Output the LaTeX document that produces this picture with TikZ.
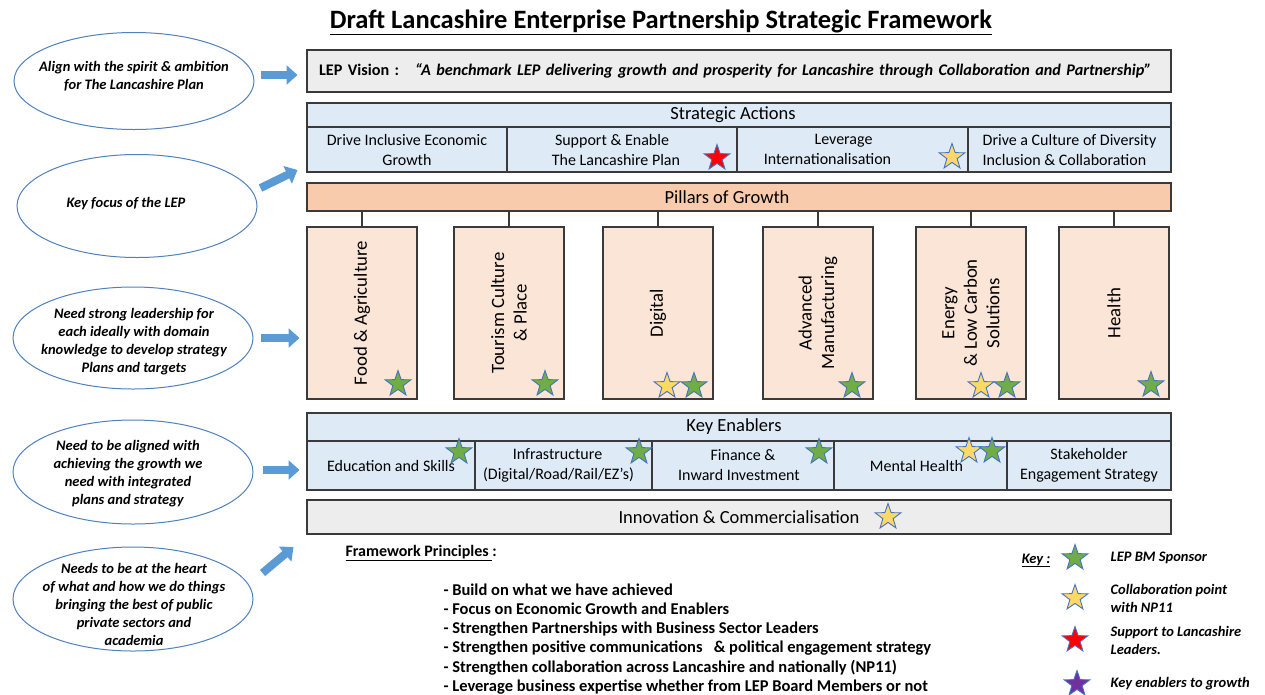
\documentclass[tikz,border=0pt]{standalone}
\usepackage{fontspec}
\setmainfont{Carlito}
\usetikzlibrary{shapes.geometric, arrows.meta, positioning}

\definecolor{visiongray}{HTML}{EDEDED}
\definecolor{actblue}{HTML}{DEEBF7}
\definecolor{pillarbar}{HTML}{F8CBAD}
\definecolor{pillarfill}{HTML}{FBE5D6}
\definecolor{edgegray}{HTML}{3A3A3A}
\definecolor{ellblue}{HTML}{4F81BD}
\definecolor{arrowblue}{HTML}{5B9BD5}
\definecolor{stargreen}{HTML}{70AD47}
\definecolor{staryellow}{HTML}{FFD966}
\definecolor{starred}{HTML}{FF0000}
\definecolor{starpurple}{HTML}{7030A0}
\definecolor{staredge}{HTML}{4472C4}

\tikzset{
  frame/.style={draw=edgegray, line width=1.3, inner sep=0, outer sep=0, anchor=north west},
  headbox/.style={frame, minimum width=864, font=\fontsize{18.5}{22}\selectfont},
  actcell/.style={frame, fill=actblue, minimum height=45, align=center, font=\fontsize{16}{20}\selectfont},
  encell/.style={frame, fill=actblue, minimum height=49, align=center, font=\fontsize{16}{20}\selectfont},
  pillar/.style={draw=edgegray, line width=1.3, fill=pillarfill, minimum width=172, minimum height=110,
    inner sep=0, rotate=90, align=center, font=\fontsize{18.8}{22.5}\selectfont},
  tie/.style={draw=edgegray, line width=1.3},
  badge/.style={shape=star, star points=5, star point ratio=2.5, minimum size=27, inner sep=0,
    draw=staredge, line width=0.9},
  gstar/.style={badge, fill=stargreen},
  ystar/.style={badge, fill=staryellow},
  rstar/.style={badge, fill=starred},
  pstar/.style={badge, fill=starpurple},
  aim/.style={ellipse, draw=ellblue, line width=1, fill=white, minimum width=240, minimum height=102, inner sep=0},
  aimtext/.style={align=center, font=\fontsize{14.5}{18}\selectfont\bfseries\itshape},
  blockarrow/.style={draw=arrowblue, line width=8, -{Triangle[length=11pt, width=19pt]}},
  principle/.style={anchor=base west, font=\fontsize{16.5}{19}\selectfont\bfseries},
  keytext/.style={anchor=west, align=left, font=\fontsize{14.5}{18}\selectfont\bfseries\itshape}
}

\begin{document}
\begin{tikzpicture}[x=1pt, y=-1pt]
  \useasboundingbox (0,0) rectangle (1265,694);

  % Title
  \node[font=\fontsize{26.5}{30}\selectfont\bfseries] (title) at (661,22)
    {\underline{Draft Lancashire Enterprise Partnership Strategic Framework}};

  % Vision
  \node[frame, fill=visiongray, minimum height=42, text width=840, inner xsep=12, align=left,
    font=\fontsize{16.2}{19}\selectfont\bfseries] (vision) at (307,50)
    {LEP Vision :\quad\textit{“A benchmark LEP delivering growth and prosperity for Lancashire through Collaboration and Partnership”}};

  % Strategic actions
  \node[headbox, fill=actblue, minimum height=24] (acthead) at (307,103) {Strategic Actions\hspace*{12pt}};
  \node[actcell, minimum width=200] (act1) at (acthead.south west) {Drive Inclusive Economic\\Growth};
  \node[actcell, minimum width=230, right=0pt of act1] (act2) {Support \& Enable\hspace*{20pt}\\The Lancashire Plan\hspace*{12pt}};
  \node[actcell, minimum width=231, right=0pt of act2] (act3) {Leverage\hspace*{18pt}\\Internationalisation\hspace*{50pt}};
  \node[actcell, minimum width=203, right=0pt of act3, align=left] (act4) {Drive a Culture of Diversity\\Inclusion \& Collaboration};
  \node[rstar] (act2s) at (717,158) {};
  \node[ystar] (act3s) at (952,157) {};

  % Pillars of growth
  \node[headbox, fill=pillarbar, minimum height=28] (bar) at (307,183) {Pillars of Growth\hspace*{24pt}};
  \node[pillar] (p1) at (362,313) {Food \& Agriculture};
  \node[pillar] (p2) at (509,313) {Tourism Culture\\\& Place};
  \node[pillar] (p3) at (658,313) {Digital};
  \node[pillar] (p4) at (818,313) {Advanced\\Manufacturing};
  \node[pillar] (p5) at (971,313) {Energy\\\& Low Carbon\\Solutions};
  \node[pillar] (p6) at (1114,313) {Health};
  \foreach \p in {p1,p2,p3,p4,p5,p6} {
    \draw[tie] (bar.south -| \p) -- (\p.east);
  }
  \node[gstar] (p1s) at (398,384) {};
  \node[gstar] (p2s) at (545,384) {};
  \node[ystar] (p3s) at (667,386) {};
  \node[gstar] (p3t) at (694,386) {};
  \node[gstar] (p4s) at (852,386) {};
  \node[ystar] (p5s) at (981,386) {};
  \node[gstar] (p5t) at (1007,386) {};
  \node[gstar] (p6s) at (1151,385) {};

  % Key enablers
  \node[headbox, fill=actblue, minimum height=28] (enhead) at (307,413) {Key Enablers\hspace*{10pt}};
  \node[encell, minimum width=168] (en1) at (enhead.south west) {Education and Skills};
  \node[encell, minimum width=177, right=0pt of en1] (en2) {Infrastructure\hspace*{12pt}\\(Digital/Road/Rail/EZ’s)\hspace*{10pt}};
  \node[encell, minimum width=182, right=0pt of en2] (en3) {Finance \&\\Inward Investment\hspace*{8pt}};
  \node[encell, minimum width=173, right=0pt of en3] (en4) {Mental Health\hspace*{8pt}};
  \node[encell, minimum width=164, right=0pt of en4] (en5) {Stakeholder\\Engagement Strategy};
  \node[gstar] (en1s) at (459,452) {};
  \node[gstar] (en2s) at (639,452) {};
  \node[gstar] (en3s) at (819,452) {};
  \node[ystar] (en4s) at (969,451) {};
  \node[gstar] (en4t) at (992,451) {};

  % Innovation
  \node[headbox, fill=visiongray, minimum height=34] (innov) at (307,500) {Innovation \& Commercialisation};
  \node[ystar] (innovs) at (888,517) {};

  % Left-hand aims
  \node[aim, minimum height=97] (ell1) at (134,81) {};
  \node[aimtext] (ell1t) at (134,76) {Align with the spirit \& ambition\\for The Lancashire Plan};
  \node[aim, minimum height=103] (ell2) at (137,206) {};
  \node[aimtext] (ell2t) at (126,204) {Key focus of the LEP};
  \node[aim] (ell3) at (133,338) {};
  \node[aimtext] (ell3t) at (134,342) {Need strong leadership for\\each ideally with domain\\knowledge to develop strategy\\Plans and targets};
  \node[aim, minimum height=104] (ell4) at (133,472) {};
  \node[aimtext] (ell4t) at (128,474) {Need to be aligned with\\achieving the growth we\\need with integrated\\plans and strategy};
  \node[aim, minimum height=104] (ell5) at (133,599) {};
  \node[aimtext] (ell5t) at (134,604) {Needs to be at the heart\\of what and how we do things\\bringing the best of public\\private sectors and\\academia};

  % Arrows
  \draw[blockarrow] ([shift={(6,-6)}]ell1.east) -- ++(37,0);
  \draw[blockarrow] ([shift={(3,-18)}]ell2.east) -- ++(37,-18);
  \draw[blockarrow] ([xshift=7]ell3.east) -- ++(39,0);
  \draw[blockarrow] ([shift={(9,-2)}]ell4.east) -- ++(37,0);
  \draw[blockarrow] ([shift={(9,-26)}]ell5.east) -- ++(31,-26);

  % Framework principles
  \node[principle, font=\fontsize{16}{19}\selectfont\bfseries] (fwp) at (342,556) {\underline{Framework Principles }:};
  \foreach \t [count=\i] in {Build on what we have achieved,
      Focus on Economic Growth and Enablers,
      Strengthen Partnerships with Business Sector Leaders,
      Strengthen positive communications \ \ \& political engagement strategy,
      Strengthen collaboration across Lancashire and nationally (NP11),
      Leverage business expertise whether from LEP Board Members or not} {
    \node[principle] (pr\i) at (440,{595+19.3*(\i-1)}) {- \t};
  }

  % Key
  \node[keytext, anchor=base east] (keyhd) at (1054,563) {\underline{Key :}};
  \node[gstar] (ks1) at (1075,558) {};
  \node[ystar] (ks2) at (1075,598) {};
  \node[rstar] (ks3) at (1075,640) {};
  \node[pstar] (ks4) at (1077,684) {};
  \node[keytext, right=24pt of ks1] (kl1) {LEP BM Sponsor};
  \node[keytext, right=24pt of ks2] (kl2) {Collaboration point\\with NP11};
  \node[keytext, right=24pt of ks3] (kl3) {Support to Lancashire\\Leaders.};
  \node[keytext, right=22pt of ks4] (kl4) {Key enablers to growth};
\end{tikzpicture}
\end{document}
